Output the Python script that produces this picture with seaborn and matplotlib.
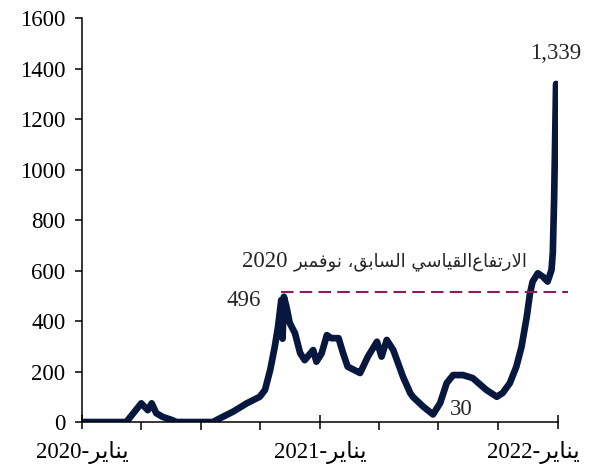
import matplotlib
matplotlib.use("Agg")
import matplotlib.pyplot as plt
import matplotlib.transforms as mtransforms
import numpy as np
import pandas as pd
import seaborn as sns

# data
dates = ["2020-01-01", "2020-03-09", "2020-04-01", "2020-04-11", "2020-04-17", "2020-04-24",
         "2020-05-04", "2020-05-18", "2020-05-25", "2020-07-20", "2020-07-31", "2020-08-20",
         "2020-09-10", "2020-09-30", "2020-10-08", "2020-10-16", "2020-10-23", "2020-10-28",
         "2020-11-02", "2020-11-04", "2020-11-06", "2020-11-10", "2020-11-15", "2020-11-23",
         "2020-12-01", "2020-12-08", "2020-12-21", "2020-12-26", "2021-01-03", "2021-01-11",
         "2021-01-18", "2021-01-29", "2021-02-05", "2021-02-12", "2021-02-22", "2021-03-03",
         "2021-03-06", "2021-03-15", "2021-03-29", "2021-04-05", "2021-04-13", "2021-04-23",
         "2021-05-08", "2021-05-19", "2021-05-23", "2021-06-08", "2021-06-23", "2021-07-04",
         "2021-07-14", "2021-07-24", "2021-08-08", "2021-08-23", "2021-09-13", "2021-09-29",
         "2021-10-08", "2021-10-19", "2021-10-29", "2021-11-06", "2021-11-14", "2021-11-19",
         "2021-11-23", "2021-12-01", "2021-12-09", "2021-12-16", "2021-12-22", "2021-12-24",
         "2021-12-26", "2021-12-29"]
values = [0, 0, 74, 47, 74, 35,
          20, 8, 0, 0, 15, 41,
          74, 100, 127, 206, 298, 377,
          483, 330, 496, 456, 392, 352,
          273, 245, 285, 239, 272, 344,
          332, 332, 272, 219, 206, 194,
          210, 259, 318, 259, 325, 285,
          179, 115, 100, 61, 30, 75,
          154, 186, 186, 174, 127, 100,
          115, 154, 219, 298, 417, 510,
          556, 589, 575, 556, 602, 670,
          880, 1339]

prev_high = 515
prev_high_span = ["2020-11-02", "2022-01-16"]
year_ticks = ["2020-01-01", "2021-01-01", "2022-01-01"]
quarter_ticks = ["2020-04-01", "2020-07-01", "2020-10-01", "2021-04-01", "2021-07-01", "2021-10-01"]
years = ["2020", "2021", "2022"]

# arabic presentation forms: (isolated, final, initial, medial)
FORMS = {
    "ا": ("\uFE8D", "\uFE8E"),
    "ر": ("\uFEAD", "\uFEAE"),
    "و": ("\uFEED", "\uFEEE"),
    "لا": ("\uFEFB", "\uFEFC"),
    "ل": ("\uFEDD", "\uFEDE", "\uFEDF", "\uFEE0"),
    "ت": ("\uFE95", "\uFE96", "\uFE97", "\uFE98"),
    "ف": ("\uFED1", "\uFED2", "\uFED3", "\uFED4"),
    "ع": ("\uFEC9", "\uFECA", "\uFECB", "\uFECC"),
    "ق": ("\uFED5", "\uFED6", "\uFED7", "\uFED8"),
    "ي": ("\uFEF1", "\uFEF2", "\uFEF3", "\uFEF4"),
    "س": ("\uFEB1", "\uFEB2", "\uFEB3", "\uFEB4"),
    "ب": ("\uFE8F", "\uFE90", "\uFE91", "\uFE92"),
    "ن": ("\uFEE5", "\uFEE6", "\uFEE7", "\uFEE8"),
    "م": ("\uFEE1", "\uFEE2", "\uFEE3", "\uFEE4"),
}


def ar(word):
    # shape one arabic word and return it in visual (left to right) order
    letters = []
    i = 0
    while i < len(word):
        if word[i:i + 2] == "لا":
            letters.append("لا")
            i += 2
        else:
            letters.append(word[i])
            i += 1
    out = []
    for k, ch in enumerate(letters):
        f = FORMS[ch]
        prev = k > 0 and len(FORMS[letters[k - 1]]) == 4
        nxt = k < len(letters) - 1 and len(f) == 4
        if prev and nxt:
            out.append(f[3])
        elif prev:
            out.append(f[1])
        elif nxt:
            out.append(f[2])
        else:
            out.append(f[0])
    return "".join(reversed(out))


x_labels = [y + "-" + ar("يناير") for y in years]
note_year = "2020"
note_words = ar("نوفمبر") + " ،" + ar("السابق") + " " + ar("القياسي") + ar("الارتفاع")

sns.set_style("ticks")
plt.rcParams["font.family"] = ["Liberation Serif", "DejaVu Sans"]

df = pd.DataFrame({"date": pd.to_datetime(dates), "value": values})

fig = plt.figure(figsize=(5.93, 4.70), dpi=100)
ax = fig.add_axes([0.1383, 0.1021, 0.8027, 0.8596])

sns.lineplot(data=df, x="date", y="value", ax=ax, color="#07173D", linewidth=4.8)

span = pd.to_datetime(prev_high_span)
ax.plot(span, [prev_high, prev_high], color="#8C1D5A", linewidth=1.5,
        dashes=(6, 3), clip_on=False)

ax.set_xlim(pd.Timestamp(year_ticks[0]), pd.Timestamp(year_ticks[-1]))
ax.set_ylim(0, 1600)
ax.set_yticks(np.arange(0, 1601, 200))
ax.set_xticks(pd.to_datetime(year_ticks))
ax.set_xticks(pd.to_datetime(quarter_ticks), minor=True)
ax.set_xticklabels(x_labels)
ax.set_xlabel("")
ax.set_ylabel("")

sns.despine(ax=ax)
for s in ["left", "bottom"]:
    ax.spines[s].set_color("black")
    ax.spines[s].set_linewidth(1.1)

ax.tick_params(axis="y", direction="out", length=5, width=1.1, labelsize=16.5, pad=7, colors="black")
ax.tick_params(axis="x", which="major", direction="inout", length=10, width=1.1,
               labelsize=16.5, pad=9, colors="black")
ax.tick_params(axis="x", which="minor", direction="out", length=6, width=1.1, colors="black")

# last date label sits left of its tick like the reference
last = ax.get_xticklabels()[-1]
last.set_horizontalalignment("right")
last.set_transform(last.get_transform() + mtransforms.ScaledTranslation(0.22, 0, fig.dpi_scale_trans))

ax.text(pd.Timestamp("2021-12-29"), 1460, "1,339", ha="center", va="center", fontsize=16.5)
ax.text(pd.Timestamp("2020-09-05"), 483, "496", ha="center", va="center", fontsize=16.5)
ax.text(pd.Timestamp("2021-08-05"), 51, "30", ha="center", va="center", fontsize=16.5)
ax.text(pd.Timestamp("2020-09-03"), 634, note_year, ha="left", va="center", fontsize=16.5)
ax.text(pd.Timestamp("2021-11-16"), 634, note_words, ha="right", va="center",
        fontsize=13, family="DejaVu Sans")

fig.savefig("out.png", dpi=100)
